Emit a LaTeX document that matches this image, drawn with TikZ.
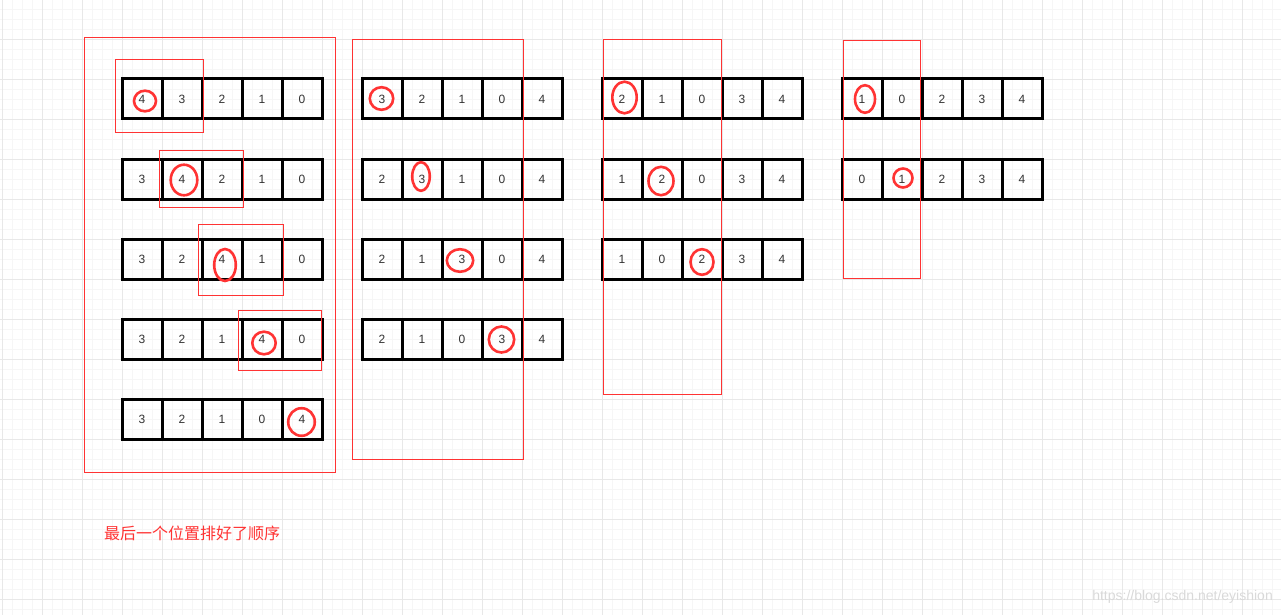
\documentclass[tikz,border=0pt]{standalone}
\usepackage{fontspec}
\setmainfont{Liberation Sans}
\newfontfamily\cjk{Noto Sans CJK SC}
\definecolor{mark}{HTML}{FF3333}
\definecolor{gridmajor}{HTML}{E8E8E8}
\definecolor{gridminor}{HTML}{F6F6F6}
\tikzset{
  cell/.style={draw, line width=3pt, minimum size=40pt, inner sep=0pt,
    font=\fontsize{12}{12}\selectfont, text=black!80},
  groupbox/.style={draw=mark, line width=0.9pt},
  hit/.style={draw=mark, line width=2.6pt},
}
\begin{document}
\begin{tikzpicture}[x=1pt, y=-1pt]
    \useasboundingbox (0,0) rectangle (1281,615);
    % Background grid
    \foreach \x in {2,12,...,1282} \draw[gridminor, line width=0.8pt] (\x,0) -- (\x,615);
    \foreach \y in {9,19,...,609} \draw[gridminor, line width=0.8pt] (0,\y) -- (1281,\y);
    \foreach \x in {2,42,...,1282} \draw[gridmajor, line width=0.9pt] (\x,0) -- (\x,615);
    \foreach \y in {39,79,...,599} \draw[gridmajor, line width=0.9pt] (0,\y) -- (1281,\y);
    % Pass 1: 4 bubbles to the end
    \foreach \vals [count=\r] in {{4,3,2,1,0},{3,4,2,1,0},{3,2,4,1,0},{3,2,1,4,0},{3,2,1,0,4}}
        \foreach \v [count=\c] in \vals
            \node[cell] (g1-\r-\c) at ({102+40*\c}, {19+80*\r}) {\v};
    % Pass 2: 3 bubbles
    \foreach \vals [count=\r] in {{3,2,1,0,4},{2,3,1,0,4},{2,1,3,0,4},{2,1,0,3,4}}
        \foreach \v [count=\c] in \vals
            \node[cell] (g2-\r-\c) at ({342+40*\c}, {19+80*\r}) {\v};
    % Pass 3: 2 bubbles
    \foreach \vals [count=\r] in {{2,1,0,3,4},{1,2,0,3,4},{1,0,2,3,4}}
        \foreach \v [count=\c] in \vals
            \node[cell] (g3-\r-\c) at ({582+40*\c}, {19+80*\r}) {\v};
    % Pass 4: 1 bubbles
    \foreach \vals [count=\r] in {{1,0,2,3,4},{0,1,2,3,4}}
        \foreach \v [count=\c] in \vals
            \node[cell] (g4-\r-\c) at ({822+40*\c}, {19+80*\r}) {\v};
    % Pass frames
    \draw[groupbox] (84,37) rectangle (335,472);
    \draw[groupbox] (352,39) rectangle (523,459);
    \draw[groupbox] (603,39) rectangle (721,394);
    \draw[groupbox] (843,40) rectangle (920,278);
    % Compared pairs
    \draw[groupbox] (115,59) rectangle (203,132);
    \draw[groupbox] (159,150) rectangle (243,207);
    \draw[groupbox] (198,224) rectangle (283,295);
    \draw[groupbox] (238,310) rectangle (321,370);
    % Moving element
    \draw[hit] (145,101) ellipse [x radius=11, y radius=10.3];
    \draw[hit] (184,180) ellipse [x radius=13.3, y radius=15.3];
    \draw[hit] (225,265) ellipse [x radius=10.8, y radius=16];
    \draw[hit] (264,343) ellipse [x radius=11.7, y radius=11.3];
    \draw[hit] (301.5,422) ellipse [x radius=13.3, y radius=13.8];
    \draw[hit] (381.5,98.5) ellipse [x radius=11.7, y radius=11.3];
    \draw[hit] (421,176.5) ellipse [x radius=8.8, y radius=14.3];
    \draw[hit] (460,260.5) ellipse [x radius=13.2, y radius=11.3];
    \draw[hit] (501.5,339.5) ellipse [x radius=12.7, y radius=13];
    \draw[hit] (624.5,97.5) ellipse [x radius=12.2, y radius=15.8];
    \draw[hit] (661,181) ellipse [x radius=12.5, y radius=14.2];
    \draw[hit] (702,262) ellipse [x radius=11.5, y radius=12.8];
    \draw[hit] (865,99) ellipse [x radius=10, y radius=13.8];
    \draw[hit] (903,178) ellipse [x radius=9.5, y radius=9.5];
    % Notes
    \node[anchor=west, text=mark, font=\cjk\fontsize{16}{16}\selectfont, inner sep=0pt] (note) at (104,533) {最后一个位置排好了顺序};
    \node[anchor=east, text=black!15, font=\fontsize{14}{14}\selectfont, inner sep=0pt] (wm) at (1273,597) {https://blog.csdn.net/eyishion};
\end{tikzpicture}
\end{document}
